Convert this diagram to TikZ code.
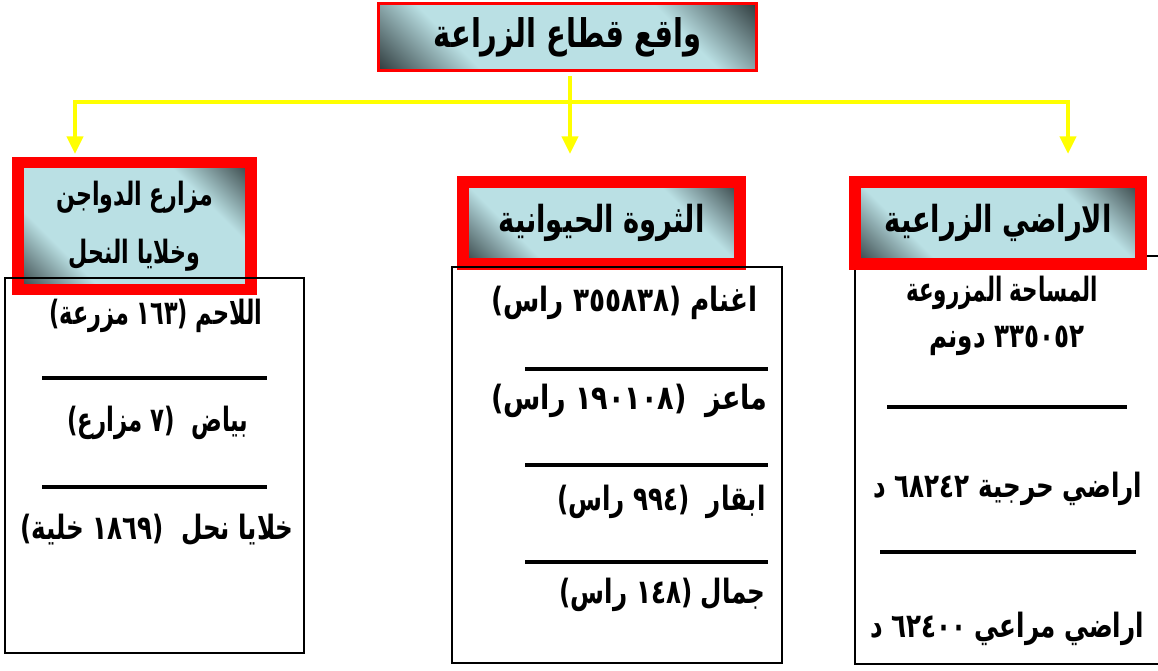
\documentclass[tikz,border=0pt]{standalone}
\usepackage{fontspec}
\usepackage{graphicx}
\newfontfamily\arabicfont[Script=Arabic]{DejaVu Sans}
\TeXXeTstate=1
\usetikzlibrary{arrows.meta}
\definecolor{boxlight}{RGB}{186,224,228}
\definecolor{boxdark}{RGB}{26,34,36}
\definecolor{lineyellow}{RGB}{255,255,0}
\pgfdeclareverticalshading{cornerdark}{100bp}{color(0bp)=(boxdark); color(12bp)=(boxdark); color(31bp)=(boxlight); color(69bp)=(boxlight); color(88bp)=(boxdark); color(100bp)=(boxdark)}
\newcommand\arv{1.36}
\newcommand\artext[2][1]{\scalebox{#1}[\arv]{\beginR #2\endR}}
\tikzset{
  topbox/.style={draw=red, line width=1.7pt, shading=cornerdark, shading angle=-45,
    minimum width=7.56cm, minimum height=1.34cm, inner sep=0pt,
    font=\arabicfont\bfseries\fontsize{16.5}{20}\selectfont},
  headbox/.style={draw=red, line width=6.8pt, shading=cornerdark, shading angle=-45,
    minimum height=1.64cm, inner sep=0pt, align=center,
    font=\arabicfont\bfseries\fontsize{15.6}{20}\selectfont},
  yline/.style={draw=lineyellow, line width=2.8pt, line cap=rect},
  yarrow/.style={draw=lineyellow, line width=2.8pt, -{Triangle[width=9pt,length=10pt]}},
  panel/.style={draw=black, line width=1.1pt},
  sepline/.style={draw=black, line width=1.9pt},
  entry/.style={inner sep=0pt, font=\arabicfont\bfseries\fontsize{14}{18}\selectfont}
}
\begin{document}
\begin{tikzpicture}[x=0.02cm, y=-0.02cm]
\useasboundingbox (0,0) rectangle (1158,670);

\draw[panel] (855,256) rectangle (1170,664);

\node[topbox] (T) at (567.5,37) {\artext{واقع قطاع الزراعة}};
\node[headbox, minimum width=4.66cm, minimum height=2.54cm, line width=6.5pt,
  font=\arabicfont\bfseries\fontsize{12.6}{33}\selectfont\def\arv{1.45}] (H1) at (134.5,226)
  {\artext{مزارع الدواجن}\\\artext{وخلايا النحل}};
\node[headbox, minimum width=5.54cm] (H2) at (601.5,223) {\artext{الثروة الحيوانية}};
\node[headbox, minimum width=5.72cm] (H3) at (998,223) {\artext{الاراضي الزراعية}};

\coordinate (B1) at (75,102);
\coordinate (B3) at (1068,102);
\coordinate (A1) at (75,154);
\coordinate (A2) at (570,154);
\coordinate (A3) at (1068,154);

\draw[yline] (B1) -- (B3);
\draw[yarrow] ([yshift=-0.08cm]T.south -| A2) -- (A2);
\draw[yarrow] (B1) -- (A1);
\draw[yarrow] (B3) -- (A3);

\draw[panel] (5,278) rectangle (304,653);
\draw[panel] (452,267) rectangle (782,663);

\node[entry] (L1) at (156,316) {\artext[0.91]{اللاحم (١٦٣ مزرعة)}};
\draw[sepline] (42,378) -- (267,378);
\node[entry] (L2) at (158,423) {\artext[0.93]{بياض \ (٧ مزارع)}};
\draw[sepline] (42,487) -- (267,487);
\node[entry] (L3) at (157,530) {\artext{خلايا نحل \ (١٨٦٩ خلية)}};

\node[entry, anchor=east] (M1) at (758,303) {\artext[1.07]{اغنام (٣٥٥٨٣٨ راس)}};
\draw[sepline] (525,369) -- (768,369);
\node[entry, anchor=east] (M2) at (768,401) {\artext[1.1]{ماعز \ (١٩٠١٠٨ راس)}};
\draw[sepline] (525,465) -- (768,465);
\node[entry, anchor=east] (M3) at (766,502) {\artext{ابقار \ (٩٩٤ راس)}};
\draw[sepline] (525,562) -- (768,562);
\node[entry, anchor=east] (M4) at (766,595) {\artext{جمال (١٤٨ راس)}};

\node[entry] (R1) at (1002,293) {\artext[0.87]{المساحة المزروعة}};
\node[entry] (R2) at (1007,341) {\artext{٣٣٥٠٥٢ دونم}};
\draw[sepline] (887,407) -- (1127,407);
\node[entry] (R3) at (1008,489) {\artext{اراضي حرجية ٦٨٢٤٢ د}};
\draw[sepline] (880,552) -- (1136,552);
\node[entry] (R4) at (1007,629) {\artext{اراضي مراعي ٦٢٤٠٠ د}};

\end{tikzpicture}
\end{document}
